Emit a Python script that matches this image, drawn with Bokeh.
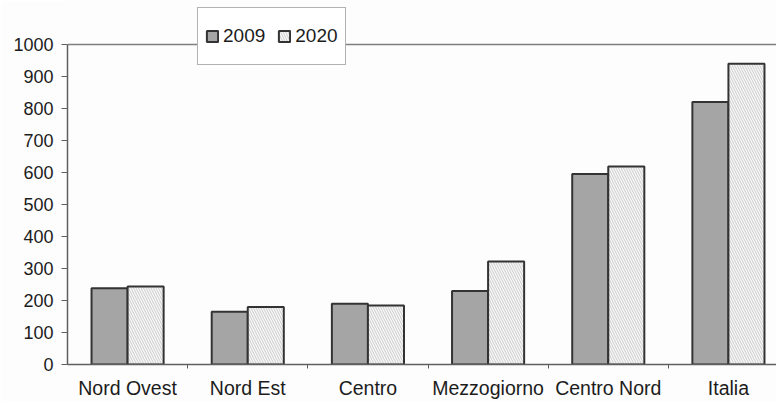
from bokeh.plotting import figure
from bokeh.models import Range1d, FixedTicker, Legend, LegendItem, ColumnDataSource
from bokeh.embed import file_html
from bokeh.resources import INLINE

# Data
regions = ["Nord Ovest", "Nord Est", "Centro", "Mezzogiorno", "Centro Nord", "Italia"]
values_2009 = [238, 165, 190, 230, 595, 820]
values_2020 = [244, 180, 184, 322, 619, 940]
y_ticks = [0, 100, 200, 300, 400, 500, 600, 700, 800, 900, 1000]

FONT = "Liberation Sans"
TEXT = "#1c1c1c"
AXIS = "#5f5f5f"

centers = [i + 0.5 for i in range(len(regions))]
bar_w = 0.3
src = ColumnDataSource(dict(
    x09=[c - bar_w / 2 for c in centers],
    x20=[c + bar_w / 2 for c in centers],
    v09=values_2009,
    v20=values_2020,
))

p = figure(width=776, height=401, output_backend="svg", toolbar_location=None,
           x_range=Range1d(0, 5.9), y_range=Range1d(0, 1137.5),
           min_border_left=67, min_border_right=0, min_border_top=0, min_border_bottom=37)
p.background_fill_color = "#fdfdfd"
p.border_fill_color = "#fdfdfd"
p.outline_line_color = None

r09 = p.vbar(x="x09", top="v09", width=bar_w, bottom=0, source=src,
             fill_color="#a5a5a5", line_color="#333333", line_width=2)
r20 = p.vbar(x="x20", top="v20", width=bar_w, bottom=0, source=src,
             fill_color="#f8f8f8", line_color="#333333", line_width=2,
             hatch_pattern="left_diagonal_line", hatch_color="#c0c0c0",
             hatch_scale=5, hatch_weight=0.8)

# Horizontal line at the top of the value scale only
p.xgrid.visible = False
p.ygrid.ticker = FixedTicker(ticks=[1000])
p.ygrid.grid_line_color = "#808080"
p.ygrid.grid_line_width = 1.3

# Y axis
ya = p.yaxis[0]
ya.ticker = FixedTicker(ticks=y_ticks)
ya.bounds = (0, 1000)
ya.axis_line_color = AXIS
ya.axis_line_width = 1.5
ya.major_tick_line_color = AXIS
ya.major_tick_in = 0
ya.major_tick_out = 6
ya.minor_tick_line_color = None
ya.major_label_standoff = 8
ya.major_label_text_font = FONT
ya.major_label_text_font_size = "18px"
ya.major_label_text_color = TEXT

# X axis: labels at category centers, tick marks between categories
xa = p.xaxis[0]
xa.ticker = FixedTicker(ticks=centers, minor_ticks=[1, 2, 3, 4, 5])
xa.major_label_overrides = {c: r for c, r in zip(centers, regions)}
xa.axis_line_color = AXIS
xa.axis_line_width = 1.5
xa.major_tick_line_color = None
xa.major_tick_in = 0
xa.major_tick_out = 0
xa.minor_tick_line_color = AXIS
xa.minor_tick_in = 0
xa.minor_tick_out = 4
xa.major_label_standoff = 8
xa.major_label_text_font = FONT
xa.major_label_text_font_size = "19.5px"
xa.major_label_text_color = TEXT

legend = Legend(items=[LegendItem(label="2009", renderers=[r09]),
                       LegendItem(label="2020", renderers=[r20])],
                orientation="horizontal", location=(130, 299),
                label_text_font=FONT, label_text_font_size="19px",
                label_text_color=TEXT, glyph_width=14, glyph_height=14,
                label_height=42, padding=7, spacing=12, label_standoff=4,
                margin=0, border_line_color="#666666", border_line_width=1,
                background_fill_color="#ffffff", background_fill_alpha=1.0)
p.add_layout(legend, "center")

open("out.html", "w").write(file_html(p, INLINE))
